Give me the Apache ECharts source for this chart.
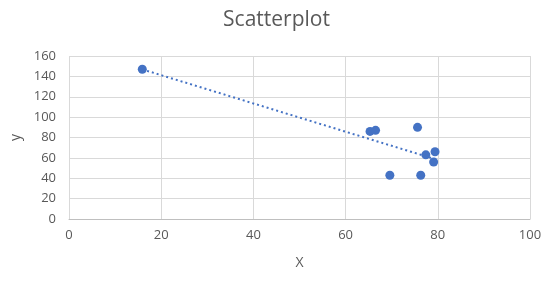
<!DOCTYPE html>
<html>
<head>
<meta charset="utf-8">
<script src="https://cdn.jsdelivr.net/npm/echarts@6/dist/echarts.min.js"></script>
<style>
  html, body { margin: 0; padding: 0; background: #fff; }
  #chart { width: 553px; height: 285px; }
</style>
</head>
<body>
<div id="chart"></div>
<script>
var xValues = [15.9, 65.3, 66.5, 75.6, 77.4, 79.4, 79.1, 69.6, 76.3];
var yValues = [147, 86, 87, 90, 63, 66, 56, 43, 43];
var xTicks = [0, 20, 40, 60, 80, 100];
var yTicks = [0, 20, 40, 60, 80, 100, 120, 140, 160];

// least squares trendline, like Excel's linear trendline
function trend(xs, ys) {
  var n = xs.length, mx = 0, my = 0;
  for (var i = 0; i < n; i++) { mx += xs[i]; my += ys[i]; }
  mx /= n; my /= n;
  var sxy = 0, sxx = 0;
  for (var j = 0; j < n; j++) {
    sxy += (xs[j] - mx) * (ys[j] - my);
    sxx += (xs[j] - mx) * (xs[j] - mx);
  }
  var k = sxy / sxx, b = my - k * mx;
  var lo = Math.min.apply(null, xs), hi = Math.max.apply(null, xs);
  return [[lo, k * lo + b], [hi, k * hi + b]];
}

var points = xValues.map(function (x, i) { return [x, yValues[i]]; });
var textColor = '#595959';
var font = 'Open Sans, Liberation Sans, sans-serif';

var myChart = echarts.init(document.getElementById('chart'));
var option = {
  animation: false,
  title: {
    text: 'Scatterplot',
    left: 'center',
    top: 5,
    textStyle: { fontSize: 21, fontWeight: 'normal', color: textColor, fontFamily: font }
  },
  grid: { left: 69, right: 23, top: 56, bottom: 66 },
  xAxis: {
    type: 'value',
    min: xTicks[0],
    max: xTicks[xTicks.length - 1],
    interval: 20,
    name: 'X',
    nameLocation: 'middle',
    nameGap: 37,
    nameTextStyle: { fontSize: 14, color: textColor, fontFamily: font },
    axisLine: { show: true, lineStyle: { color: '#bfbfbf' } },
    axisTick: { show: false },
    axisLabel: { color: textColor, fontSize: 13, margin: 10, fontFamily: font },
    splitLine: { show: true, lineStyle: { color: '#d9d9d9' } }
  },
  yAxis: {
    type: 'value',
    min: yTicks[0],
    max: yTicks[yTicks.length - 1],
    interval: 20,
    name: 'y',
    nameLocation: 'middle',
    nameGap: 45,
    nameRotate: 90,
    nameTextStyle: { fontSize: 14, color: textColor, fontFamily: font },
    axisLine: { show: false },
    axisTick: { show: false },
    axisLabel: { color: textColor, fontSize: 13, margin: 13, fontFamily: font },
    splitLine: { show: true, lineStyle: { color: '#d9d9d9' } }
  },
  series: [
    {
      type: 'line',
      data: trend(xValues, yValues),
      symbol: 'none',
      lineStyle: { color: '#4472C4', width: 2, type: [2, 3] },
      z: 1
    },
    {
      type: 'scatter',
      data: points,
      symbolSize: 9,
      itemStyle: { color: '#4472C4', opacity: 1 },
      z: 2
    }
  ]
};
myChart.setOption(option);
window.addEventListener('resize', function () {
  myChart.resize();
});
</script>
</body>
</html>
